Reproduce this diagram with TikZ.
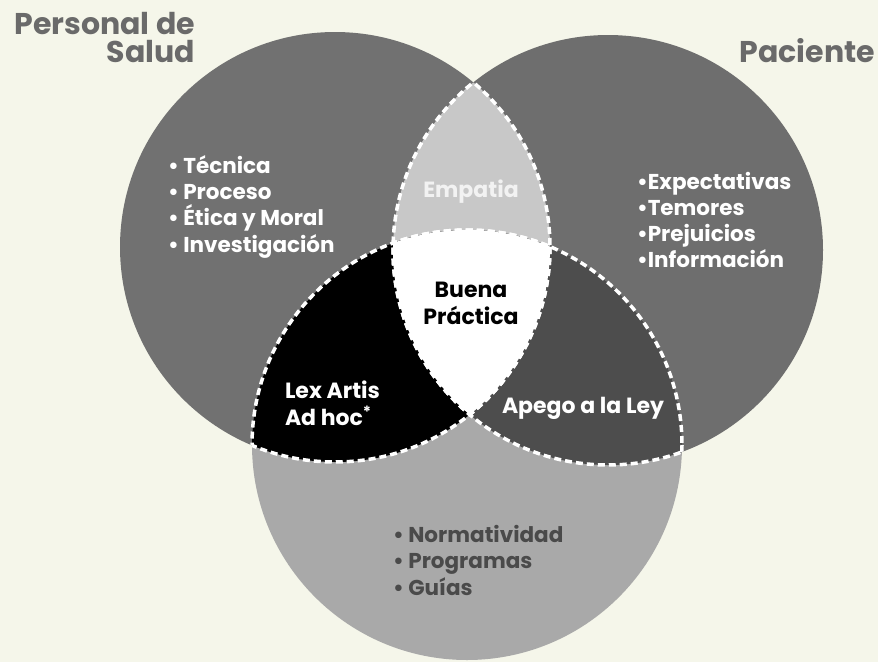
\documentclass[tikz,border=0pt]{standalone}
\usepackage{fontspec}
\setmainfont{Poppins}
\definecolor{paper}{HTML}{F5F6EA}
\definecolor{titlegray}{HTML}{6A6A6A}
\definecolor{leftgray}{HTML}{717171}
\definecolor{rightgray}{HTML}{6E6E6E}
\definecolor{bottomgray}{HTML}{A9A9A9}
\definecolor{lensgray}{HTML}{C8C8C8}
\definecolor{leygray}{HTML}{4D4D4D}
\definecolor{listgray}{HTML}{4A4A4A}
\begin{document}
\begin{tikzpicture}[x=1pt, y=-1pt,
    every node/.style={inner sep=0pt, outer sep=0pt},
    title/.style={text=titlegray, align=right, font=\fontsize{30}{27.5}\selectfont\bfseries},
    items/.style={text=white, align=left, font=\fontsize{21.5}{26.2}\selectfont\bfseries},
    zone/.style={text=white, font=\fontsize{22}{26.5}\selectfont\bfseries},
    seam/.style={draw=white, line width=3.5pt, dash pattern=on 7pt off 4pt}]
    \useasboundingbox (0,0) rectangle (878,662);
    \fill[paper] (0,0) rectangle (878,662);
    \def\rad{215}
    \coordinate (cL) at (335,247);
    \coordinate (cR) at (608,250);
    \coordinate (cB) at (467,445);
    % circles
    \fill[leftgray] (cL) circle (\rad);
    \fill[rightgray] (cR) circle (\rad);
    \fill[bottomgray] (cB) circle (\rad);
    % overlaps
    \begin{scope}
        \clip (cL) circle (\rad);
        \fill[lensgray] (cR) circle (\rad);
        \fill[black] (cB) circle (\rad);
    \end{scope}
    \begin{scope}
        \clip (cR) circle (\rad);
        \fill[leygray] (cB) circle (\rad);
    \end{scope}
    \begin{scope}
        \clip (cL) circle (\rad);
        \clip (cR) circle (\rad);
        \fill[white] (cB) circle (\rad);
    \end{scope}
    % dashed seams
    \begin{scope}
        \clip (cR) circle (\rad);
        \draw[seam] (cL) circle (\rad);
        \draw[seam] (cB) circle (\rad);
    \end{scope}
    \begin{scope}
        \clip (cL) circle (\rad);
        \draw[seam] (cR) circle (\rad);
        \draw[seam] (cB) circle (\rad);
    \end{scope}
    \begin{scope}
        \clip (cB) circle (\rad);
        \draw[seam] (cL) circle (\rad);
        \draw[seam] (cR) circle (\rad);
    \end{scope}
    % titles (base = last line)
    \node[title, anchor=base east] (personal) at (195,62) {Personal de\\Salud};
    \node[title, anchor=base east] (paciente) at (875,62) {Paciente};
    % lists
    \node[items, anchor=base west] (personalitems) at (168,252) {• Técnica\\• Proceso\\• Ética y Moral\\• Investigación};
    \node[items, font=\fontsize{21.5}{25.7}\selectfont\bfseries, anchor=base west] (pacienteitems) at (637,267) {•Expectativas\\•Temores\\•Prejuicios\\•Información};
    \node[items, text=listgray, anchor=base west] (leyitems) at (393,595) {• Normatividad\\• Programas\\• Guías};
    % overlap labels
    \node[zone, text=white!95!black, anchor=base] (empatia) at (471,197) {Empatia};
    \node[zone, text=black, align=center, anchor=base] (buena) at (471,324) {Buena\\Práctica};
    \node[zone, align=left, anchor=base west] (lexartis) at (285,425) {Lex Artis\\Ad hoc\textsuperscript{*}};
    \node[zone, anchor=base] (apego) at (583,413) {Apego a la Ley};
\end{tikzpicture}
\end{document}
